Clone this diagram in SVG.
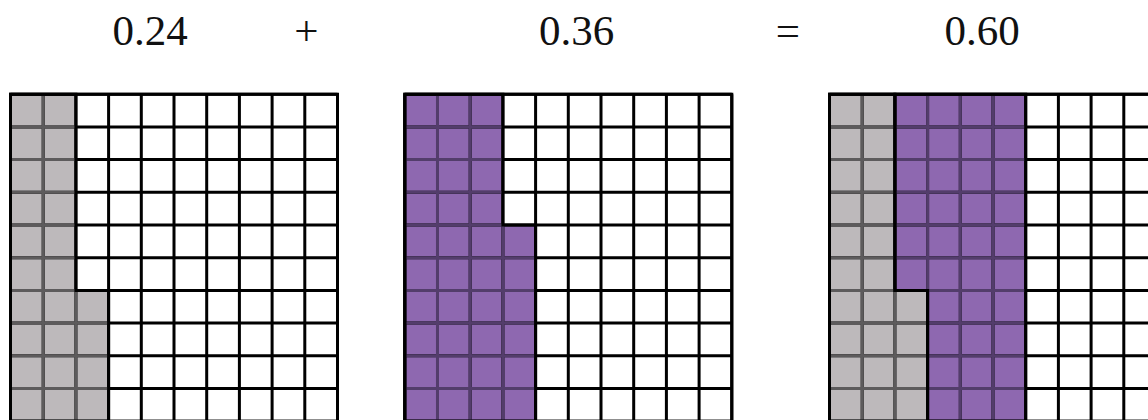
<svg xmlns="http://www.w3.org/2000/svg" width="1148" height="420" viewBox="0 0 1148 420">
  <style>
    .lbl { font-family: "Liberation Serif", "Times New Roman", serif; font-size: 43px; fill: #111; text-anchor: middle; }
    .bg { fill: #ffffff; }
    .gfill { fill: #bdb9bb; }
    .pfill { fill: #8e68b0; }
    .grid { fill: none; stroke: #000; stroke-width: 3; vector-effect: non-scaling-stroke; }
    .ginner { fill: none; stroke: #5d5b5c; stroke-width: 3; vector-effect: non-scaling-stroke; }
    .pinner { fill: none; stroke: #533d6b; stroke-width: 3; vector-effect: non-scaling-stroke; }
    .outline { fill: none; stroke: #000; stroke-width: 3; stroke-linejoin: miter; vector-effect: non-scaling-stroke; }
  </style>

  <g id="labels">
    <text class="lbl" x="150" y="45">0.24</text>
    <text class="lbl" x="306.5" y="45">+</text>
    <text class="lbl" x="576.5" y="45">0.36</text>
    <text class="lbl" x="788" y="45">=</text>
    <text class="lbl" x="982" y="45">0.60</text>
  </g>

  <g id="grid-024" transform="translate(10.5,94.2) scale(32.7)">
    <rect class="bg" x="0" y="0" width="10" height="10"/>
    <polygon class="gfill" points="0,0 2,0 2,6 3,6 3,10 0,10"/>
    <path class="grid" d="M0 0V10M1 0V10M2 0V10M3 0V10M4 0V10M5 0V10M6 0V10M7 0V10M8 0V10M9 0V10M10 0V10M0 0H10M0 1H10M0 2H10M0 3H10M0 4H10M0 5H10M0 6H10M0 7H10M0 8H10M0 9H10M0 10H10"/>
    <path class="ginner" d="M1 0V10M2 6V10M0 1H2M0 2H2M0 3H2M0 4H2M0 5H2M0 6H2M0 7H3M0 8H3M0 9H3"/>
    <polygon class="outline" points="0,0 2,0 2,6 3,6 3,10 0,10"/>
    <rect class="outline" x="0" y="0" width="10" height="10"/>
  </g>

  <g id="grid-036" transform="translate(404.8,94.2) scale(32.7)">
    <rect class="bg" x="0" y="0" width="10" height="10"/>
    <polygon class="pfill" points="0,0 3,0 3,4 4,4 4,10 0,10"/>
    <path class="grid" d="M0 0V10M1 0V10M2 0V10M3 0V10M4 0V10M5 0V10M6 0V10M7 0V10M8 0V10M9 0V10M10 0V10M0 0H10M0 1H10M0 2H10M0 3H10M0 4H10M0 5H10M0 6H10M0 7H10M0 8H10M0 9H10M0 10H10"/>
    <path class="pinner" d="M1 0V10M2 0V10M3 4V10M0 1H3M0 2H3M0 3H3M0 4H3M0 5H4M0 6H4M0 7H4M0 8H4M0 9H4"/>
    <polygon class="outline" points="0,0 3,0 3,4 4,4 4,10 0,10"/>
    <rect class="outline" x="0" y="0" width="10" height="10"/>
  </g>

  <g id="grid-060" transform="translate(829.5,94.2) scale(32.7)">
    <rect class="bg" x="0" y="0" width="10" height="10"/>
    <polygon class="gfill" points="0,0 2,0 2,6 3,6 3,10 0,10"/>
    <polygon class="pfill" points="2,0 6,0 6,10 3,10 3,6 2,6"/>
    <path class="grid" d="M0 0V10M1 0V10M2 0V10M3 0V10M4 0V10M5 0V10M6 0V10M7 0V10M8 0V10M9 0V10M10 0V10M0 0H10M0 1H10M0 2H10M0 3H10M0 4H10M0 5H10M0 6H10M0 7H10M0 8H10M0 9H10M0 10H10"/>
    <path class="ginner" d="M1 0V10M2 6V10M0 1H2M0 2H2M0 3H2M0 4H2M0 5H2M0 6H2M0 7H3M0 8H3M0 9H3"/>
    <path class="pinner" d="M3 0V6M4 0V10M5 0V10M2 1H6M2 2H6M2 3H6M2 4H6M2 5H6M3 6H6M3 7H6M3 8H6M3 9H6"/>
    <polygon class="outline" points="0,0 2,0 2,6 3,6 3,10 0,10"/>
    <polygon class="outline" points="2,0 6,0 6,10 3,10 3,6 2,6"/>
    <rect class="outline" x="0" y="0" width="10" height="10"/>
  </g>
</svg>
